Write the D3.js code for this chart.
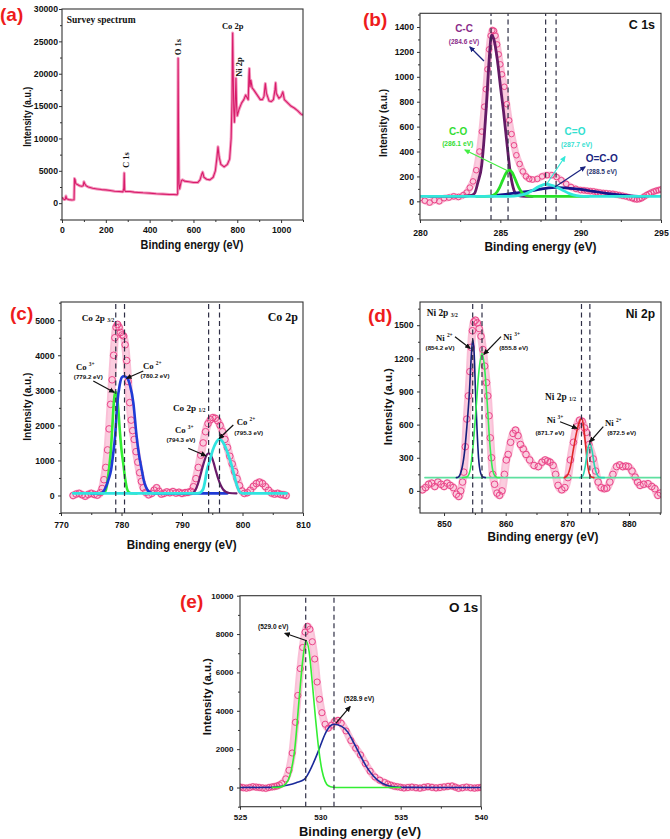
<!DOCTYPE html>
<html><head><meta charset="utf-8">
<script src="https://cdn.jsdelivr.net/npm/d3@7"></script>
<style>body{margin:0;background:#fff} svg{display:block}</style>
</head><body><svg id="c" width="670" height="839"></svg>
<script>
// ---------------- DATA ----------------
// (a) survey spectrum [binding energy eV, intensity]
const surveyData = [[0,900],[5,700],[10,550],[15,600],[18,1100],[21,700],[30,550],[45,500],[55,520],[57,3800],[60,3600],[63,3000],[70,2900],[80,2700],[90,2600],[97,2700],[100,3300],[104,3000],[110,2700],[120,2500],[140,2300],[160,2200],[180,2100],[200,2050],[220,1950],[240,1850],[260,1800],[278,1750],[282,2300],[284,4650],[286,2000],[290,1800],[310,1800],[330,1700],[350,1650],[370,1600],[400,1550],[430,1450],[460,1400],[490,1350],[510,1350],[525,1300],[528,1500],[530,22400],[532,10500],[534,3000],[537,2200],[540,2700],[545,3500],[550,3600],[560,3400],[580,3300],[600,3200],[620,3200],[630,3600],[638,4500],[642,4800],[648,4000],[660,3700],[675,3600],[690,4000],[700,5000],[707,7000],[712,8700],[717,7200],[725,6000],[740,5600],[755,6000],[765,6800],[772,10000],[776,16000],[779,26300],[781,21000],[784,14500],[787,12500],[791,16000],[794,19300],[797,15000],[800,13500],[808,14500],[820,15500],[830,16000],[838,16700],[845,16300],[850,16000],[853,19500],[855,20800],[858,18000],[862,19000],[868,17800],[875,17500],[885,17000],[895,16500],[905,16000],[915,16000],[922,16500],[928,18500],[933,17000],[945,15800],[955,15700],[965,16000],[972,17500],[975,18600],[978,17000],[990,16200],[1000,16500],[1008,17200],[1015,16000],[1030,15500],[1045,15000],[1060,14700],[1075,14300],[1090,13800],[1100,13600]];
const surveyTicksX = [0,200,400,600,800,1000];
const surveyTicksY = [0,5000,10000,15000,20000,25000,30000];

// (b) C 1s
const c1sExp = [[280.0,25],[280.3,5],[280.6,-10],[280.9,10],[281.2,0],[281.5,25],[281.8,30],[282.1,40],[282.4,35],[282.7,50],[282.9,70],[283.1,110],[283.3,160],[283.5,250],[283.7,400],[283.85,560],[284.0,760],[284.1,900],[284.2,1060],[284.3,1220],[284.4,1330],[284.5,1375],[284.6,1370],[284.7,1330],[284.8,1260],[284.9,1180],[285.0,1100],[285.1,1020],[285.25,920],[285.4,780],[285.55,650],[285.7,540],[285.85,450],[286.0,370],[286.2,300],[286.4,240],[286.6,200],[286.8,180],[287.0,175],[287.3,180],[287.6,200],[287.9,210],[288.2,210],[288.5,195],[288.8,170],[289.1,140],[289.4,115],[289.7,100],[290.0,90],[290.2,88],[290.4,85],[290.6,82],[290.8,80],[291.0,74],[291.2,70],[291.4,67],[291.6,65],[291.8,62],[292.0,60],[292.2,55],[292.4,50],[292.6,45],[292.8,40],[293.0,32],[293.2,25],[293.35,18],[293.5,15],[293.65,18],[293.8,25],[293.95,38],[294.1,50],[294.25,60],[294.4,70],[294.55,78],[294.7,85],[294.85,90],[295.0,95]];
const c1sCC = [[280.5,40],[282.5,40],[283.2,48],[283.4,65],[283.6,150],[283.84,290],[284.0,520],[284.15,810],[284.3,1130],[284.45,1335],[284.6,1300],[284.8,1150],[285.0,930],[285.2,720],[285.4,480],[285.6,250],[285.8,110],[286.0,55],[286.3,42],[287.0,40]];
const c1sCO = [[283.5,40],[284.4,42],[284.7,60],[284.95,110],[285.15,170],[285.35,225],[285.55,250],[285.75,230],[285.95,170],[286.15,110],[286.35,70],[286.6,48],[287.0,40],[290.5,40]];
const c1sCeqO = [[280,40],[285.5,40],[286.2,48],[286.6,62],[287.0,88],[287.4,118],[287.85,138],[288.3,125],[288.8,95],[289.3,62],[289.75,45],[290.2,40],[295,40]];
const c1sOCO = [[284.4,42],[285.0,52],[285.5,60],[286.0,68],[286.5,76],[287.0,86],[287.5,98],[288.0,108],[288.45,112],[289.0,108],[290.0,96],[290.8,80],[291.6,64],[292.4,52],[293.3,43],[294.0,40]];
const c1sDash = [284.42,285.48,287.82,288.47];
const c1sTicksX = [280,285,290,295];
const c1sTicksY = [0,200,400,600,800,1000,1200,1400];

// (c) Co 2p
const co2pExp = [[772,0],[772.5,40],[773,60],[773.5,20],[774,-20],[774.5,30],[775,60],[775.5,30],[776,10],[776.5,80],[776.8,200],[777.1,450],[777.4,800],[777.7,1300],[777.95,1900],[778.2,2600],[778.45,3300],[778.7,4000],[778.9,4500],[779.1,4800],[779.35,4880],[779.6,4800],[779.85,4650],[780.1,4580],[780.35,4550],[780.6,4300],[780.85,3850],[781.1,3250],[781.35,2650],[781.6,2150],[781.85,1850],[782.1,1600],[782.4,1250],[782.7,950],[783.0,650],[783.3,400],[783.6,220],[784.0,90],[784.5,20],[785.0,60],[785.4,150],[785.8,220],[786.2,120],[786.6,40],[787.0,60],[787.5,100],[788.0,80],[788.5,110],[789.0,70],[789.5,90],[790.0,60],[790.5,80],[791.0,90],[791.5,120],[791.9,250],[792.3,480],[792.7,800],[793.1,1150],[793.5,1500],[793.9,1820],[794.3,2050],[794.7,2160],[795.1,2220],[795.5,2200],[795.9,2130],[796.3,2000],[796.7,1820],[797.1,1600],[797.5,1370],[797.9,1120],[798.3,900],[798.7,680],[799.1,480],[799.5,280],[799.9,130],[800.3,60],[800.8,80],[801.3,150],[801.8,260],[802.3,340],[802.8,380],[803.3,340],[803.8,250],[804.3,150],[804.8,70],[805.3,40],[805.8,60],[806.3,30],[806.8,20],[807.2,0]];
const co2pGreen = [[776,60],[777.0,65],[777.3,110],[777.6,300],[777.9,700],[778.2,1200],[778.5,2000],[778.75,2700],[778.95,2960],[779.2,2900],[779.45,2500],[779.7,1900],[780.0,1300],[780.3,900],[780.6,480],[780.9,200],[781.2,90],[781.6,62],[782.5,60]];
const co2pBlue = [[775,60],[776.6,62],[777.0,110],[777.45,256],[777.9,480],[778.28,730],[778.6,1150],[778.94,1680],[779.3,2630],[779.7,3150],[780.05,3370],[780.4,3400],[780.9,3360],[781.4,3150],[781.97,2630],[782.5,1680],[782.9,1150],[783.35,730],[783.7,420],[784.0,256],[784.6,100],[785.2,65],[786,60],[797.5,60]];
const co2pPurple = [[790,60],[791.5,62],[792.0,100],[792.4,220],[792.8,420],[793.2,680],[793.6,930],[794.0,1130],[794.4,1205],[794.8,1140],[795.2,950],[795.6,700],[796.0,470],[796.4,290],[796.8,170],[797.3,100],[797.8,70],[799,60]];
const co2pCyan = [[772,60],[792.0,60],[792.5,62],[793.0,80],[793.5,180],[793.8,400],[794.1,700],[794.6,1000],[795.1,1300],[795.6,1500],[796.15,1610],[796.6,1560],[797.0,1450],[797.4,1280],[797.8,1080],[798.2,860],[798.6,600],[799.0,330],[799.4,140],[799.8,70],[800.3,60],[807.3,60]];
const co2pDash = [779.05,780.5,794.4,796.2];
const co2pTicksX = [770,780,790,800,810];
const co2pTicksY = [0,1000,2000,3000,4000,5000];

// (d) Ni 2p
const ni2pExp = [[846.5,10],[847,30],[847.5,60],[848,70],[848.5,40],[849,80],[849.5,60],[850,40],[850.5,70],[851,50],[851.5,30],[852,-30],[852.4,-50],[852.7,0],[853.0,80],[853.2,170],[853.45,400],[853.7,650],[853.95,860],[854.2,1080],[854.4,1300],[854.6,1450],[854.85,1530],[855.1,1545],[855.4,1520],[855.7,1470],[856.0,1400],[856.3,1280],[856.6,1130],[856.9,980],[857.1,860],[857.3,680],[857.5,480],[857.7,300],[857.9,150],[858.2,60],[858.6,-20],[859.0,-40],[859.4,0],[859.8,150],[860.1,280],[860.4,330],[860.8,440],[861.2,520],[861.6,550],[862.0,500],[862.4,420],[862.85,380],[863.3,330],[863.9,280],[864.6,230],[865.3,220],[865.9,260],[866.4,280],[866.8,270],[867.2,260],[867.7,230],[868.1,150],[868.5,50],[869.1,10],[869.6,30],[870.1,120],[870.5,280],[871.0,440],[871.5,580],[872.0,640],[872.4,630],[872.8,570],[873.1,530],[873.5,420],[874.2,290],[874.6,180],[875.0,80],[875.5,30],[876.0,20],[876.4,25],[876.9,80],[877.4,150],[878.0,220],[878.5,235],[879.0,220],[879.5,225],[879.9,220],[880.5,180],[881.0,125],[881.4,80],[881.8,50],[882.4,60],[883.1,65],[883.7,40],[884.2,20],[884.7,-40],[885.1,-20]];
const ni2pNavy = [[852.0,120],[852.3,125],[852.8,180],[853.3,340],[853.7,580],[854.1,880],[854.4,1200],[854.65,1370],[854.9,1230],[855.1,900],[855.35,560],[855.6,300],[855.9,170],[856.3,125],[856.7,120]];
const ni2pGreen = [[853.0,120],[853.7,125],[854.2,180],[854.7,400],[855.2,750],[855.6,1050],[856.16,1245],[856.6,1100],[857.0,800],[857.4,450],[857.8,220],[858.2,140],[858.6,122],[859,120]];
const ni2pRed = [[869.5,120],[870.0,140],[870.5,220],[871.0,380],[871.5,530],[872.0,630],[872.3,655],[872.6,600],[872.9,450],[873.2,280],[873.5,170],[873.9,125],[874.3,120]];
const ni2pTeal = [[872.0,120],[872.5,135],[872.9,220],[873.3,370],[873.66,430],[874.0,370],[874.4,230],[874.8,150],[875.3,122],[876,120]];
const ni2pBase = [[846.9,120],[885.2,120]];
const ni2pDash = [854.65,856.16,872.3,873.66];
const ni2pTicksX = [850,860,870,880];
const ni2pTicksY = [0,300,600,900,1200,1500];

// (e) O 1s
const o1sExp = [[525,20],[525.2,-10],[525.4,-30],[525.6,0],[525.8,40],[526.0,20],[526.2,0],[526.4,-20],[526.6,-40],[526.8,0],[527.0,30],[527.15,50],[527.3,80],[527.45,130],[527.6,200],[527.85,450],[528.05,900],[528.25,1800],[528.45,3400],[528.6,4800],[528.75,6200],[528.9,7300],[529.05,8100],[529.2,8400],[529.35,8250],[529.5,7600],[529.65,6700],[529.8,5500],[529.95,4600],[530.1,3900],[530.3,3300],[530.5,3100],[530.7,3250],[530.9,3450],[531.1,3500],[531.3,3350],[531.6,2950],[531.9,2450],[532.2,2050],[532.5,1700],[532.8,1250],[533.1,850],[533.4,550],[533.7,380],[534.0,260],[534.2,180],[534.4,120],[534.6,70],[534.8,40],[535.0,10],[535.2,-20],[535.45,0],[535.7,20],[535.95,-10],[536.2,-30],[536.45,10],[536.7,40],[536.95,10],[537.2,-20],[537.45,0],[537.7,30],[537.95,60],[538.2,80],[538.4,20],[538.6,-40],[538.85,-10],[539.1,20],[539.35,-10],[539.6,-30],[539.8,-10],[540,0]];
const o1sGreen = [[527.0,0],[527.5,20],[527.8,150],[528.1,600],[528.4,1950],[528.7,4800],[528.9,6600],[529.1,7650],[529.3,7100],[529.5,5450],[529.7,3600],[529.9,2000],[530.1,900],[530.3,320],[530.5,90],[530.8,15],[531.2,0],[535,0]];
const o1sBlue = [[525,0],[527.0,10],[527.5,50],[528.0,130],[528.5,250],[529.0,420],[529.5,1150],[529.9,1950],[530.3,2800],[530.6,3200],[530.85,3300],[531.3,3200],[531.7,2900],[532.1,2300],[532.5,1650],[532.9,1050],[533.3,600],[533.7,300],[534.1,130],[534.6,40],[535.2,5],[540,0]];
const o1sDash = [529.09,530.85];
const o1sTicksX = [525,530,535,540];
const o1sTicksY = [0,2000,4000,6000,8000,10000];

// ---------------- DRAWING ----------------
const svg = d3.select("#c");
const SANS = "'Liberation Sans', Arial, sans-serif";
const SERIF = "'Liberation Serif', 'Times New Roman', serif";
const defs = svg.append("defs");
const markers = {};
function marker(color) {
  if (markers[color]) return markers[color];
  const id = "ah" + Object.keys(markers).length;
  defs.append("marker").attr("id", id).attr("viewBox", "0 0 10 10").attr("refX", 8).attr("refY", 5)
    .attr("markerUnits", "userSpaceOnUse").attr("markerWidth", 6).attr("markerHeight", 6).attr("orient", "auto")
    .append("path").attr("d", "M0,0.5 L10,5 L0,9.5 z").attr("fill", color);
  markers[color] = id; return id;
}
function minorVals(ticks, dom) {
  const s = ticks[1] - ticks[0], out = [];
  for (let v = ticks[0] - s / 2; v <= dom[1] + 1e-9; v += s) if (v >= dom[0]) out.push(v);
  return out;
}
function panel(cfg) {
  const g = svg.append("g");
  const x = d3.scaleLinear().domain(cfg.xDom).range([cfg.left, cfg.right]);
  const y = d3.scaleLinear().domain(cfg.yDom).range([cfg.bottom, cfg.top]);
  const cid = "clip" + cfg.id;
  defs.append("clipPath").attr("id", cid).append("rect")
    .attr("x", cfg.left).attr("y", cfg.top).attr("width", cfg.right - cfg.left).attr("height", cfg.bottom - cfg.top);
  const plot = g.append("g").attr("clip-path", `url(#${cid})`);
  const fs = cfg.tickFont || 8.7;
  const ya = g.append("g").attr("transform", `translate(${cfg.left},0)`)
    .call(d3.axisLeft(y).tickValues(cfg.yTicks).tickSize(3).tickSizeOuter(0).tickPadding(cfg.yPad).tickFormat(d3.format("d")));
  const ym = g.append("g").attr("transform", `translate(${cfg.left},0)`)
    .call(d3.axisLeft(y).tickValues(minorVals(cfg.yTicks, cfg.yDom)).tickSize(2).tickSizeOuter(0).tickFormat(""));
  const xa = g.append("g").attr("transform", `translate(0,${cfg.bottom})`)
    .call(d3.axisBottom(x).tickValues(cfg.xTicks).tickSize(3).tickSizeOuter(0).tickPadding(cfg.xPad).tickFormat(d3.format("d")));
  const xm = g.append("g").attr("transform", `translate(0,${cfg.bottom})`)
    .call(d3.axisBottom(x).tickValues(minorVals(cfg.xTicks, cfg.xDom)).tickSize(2).tickSizeOuter(0).tickFormat(""));
  [ya, ym, xa, xm].forEach(a => { a.select(".domain").remove(); a.selectAll("line").attr("stroke", "#333"); });
  [ya, xa].forEach(a => a.selectAll("text").attr("font-family", SANS).attr("font-weight", "bold").attr("font-size", fs).attr("fill", "#111"));
  svg.append("rect").attr("x", cfg.left).attr("y", cfg.top).attr("width", cfg.right - cfg.left)
    .attr("height", cfg.bottom - cfg.top).attr("fill", "none").attr("stroke", "#333").attr("stroke-width", 1.1);
  svg.append("text").attr("x", cfg.xt[0]).attr("y", cfg.xt[1]).attr("text-anchor", "middle").attr("dominant-baseline", "central")
    .attr("font-family", SANS).attr("font-weight", "bold").attr("font-size", cfg.xt[2]).attr("textLength", cfg.xt[3])
    .attr("lengthAdjust", "spacingAndGlyphs").attr("fill", "#111").text("Binding energy (eV)");
  svg.append("text").attr("transform", `translate(${cfg.yt[0]},${cfg.yt[1]}) rotate(-90)`).attr("text-anchor", "middle")
    .attr("dominant-baseline", "central").attr("font-family", SANS).attr("font-weight", "bold").attr("font-size", cfg.yt[2])
    .attr("textLength", cfg.yt[3]).attr("lengthAdjust", "spacingAndGlyphs").attr("fill", "#111").text("Intensity (a.u.)");
  svg.append("text").attr("x", cfg.letter[0]).attr("y", cfg.letter[1]).attr("dominant-baseline", "central")
    .attr("font-family", SANS).attr("font-weight", "bold").attr("font-size", 19).attr("fill", "#ee1c1c").text(cfg.letter[2]);
  const top = svg.append("g");
  return { g: top, plot, x, y };
}
function lineGen(p, curve) {
  return d3.line().x(d => p.x(d[0])).y(d => p.y(d[1])).curve(curve || d3.curveMonotoneX);
}
function expSeries(p, data, r) {
  p.plot.append("path").datum(data).attr("d", lineGen(p)).attr("fill", "none").attr("stroke", "#f58cb6")
    .attr("stroke-width", 2 * r + 1.5).attr("stroke-linejoin", "round").attr("stroke-linecap", "round").attr("opacity", 0.55);
  p.plot.append("path").datum(data).attr("d", lineGen(p)).attr("fill", "none").attr("stroke", "#fbd3e3")
    .attr("stroke-width", 2 * r - 2.2).attr("stroke-linejoin", "round").attr("stroke-linecap", "round").attr("opacity", 0.7);
  p.plot.append("g").selectAll("circle").data(data).join("circle")
    .attr("cx", d => p.x(d[0])).attr("cy", d => p.y(d[1])).attr("r", r)
    .attr("fill", "none").attr("stroke", "#ea4689").attr("stroke-width", 1);
}
function fit(p, data, color, w) {
  p.plot.append("path").datum(data).attr("d", lineGen(p)).attr("fill", "none").attr("stroke", color)
    .attr("stroke-width", w).attr("stroke-linejoin", "round").attr("stroke-linecap", "round");
}
function dashes(p, vals, color) {
  const [y0, y1] = p.y.range();
  p.plot.append("g").selectAll("line").data(vals).join("line")
    .attr("x1", d => p.x(d)).attr("x2", d => p.x(d)).attr("y1", y0).attr("y2", y1)
    .attr("stroke", color || "#2e2e45").attr("stroke-width", 1.2).attr("stroke-dasharray", "5,3.5");
}
function note(p, vx, vy, txt, o) {
  o = o || {};
  const t = p.g.append("text").attr("font-family", o.font || SANS).attr("font-weight", "bold")
    .attr("font-size", o.size || 6.2).attr("fill", o.fill || "#111").attr("text-anchor", o.anchor || "middle")
    .attr("dominant-baseline", "central").text(txt);
  if (o.rotate) t.attr("transform", `translate(${p.x(vx)},${p.y(vy)}) rotate(-90)`);
  else t.attr("x", p.x(vx)).attr("y", p.y(vy));
  return t;
}
function ion(p, vx, vy, base, sup, size) {
  size = size || 8.7;
  const t = p.g.append("text").attr("x", p.x(vx)).attr("y", p.y(vy)).attr("font-family", SERIF)
    .attr("font-weight", "bold").attr("font-size", size).attr("fill", "#111").attr("dominant-baseline", "central");
  t.append("tspan").text(base + " ");
  t.append("tspan").text(sup).attr("font-size", size * 0.62).attr("dy", -3);
}
function subLabel(p, vx, vy, base, sub, size) {
  const t = p.g.append("text").attr("x", p.x(vx)).attr("y", p.y(vy)).attr("font-family", SERIF)
    .attr("font-weight", "bold").attr("font-size", size).attr("fill", "#111").attr("dominant-baseline", "central");
  t.append("tspan").text(base + " ");
  t.append("tspan").text(sub).attr("font-size", size * 0.6).attr("dy", 2);
}
function arrow(p, x1, y1, x2, y2, color) {
  color = color || "#111";
  p.g.append("line").attr("x1", p.x(x1)).attr("y1", p.y(y1)).attr("x2", p.x(x2)).attr("y2", p.y(y2))
    .attr("stroke", color).attr("stroke-width", 1.2).attr("marker-end", `url(#${marker(color)})`);
}

// ----- (a) -----
const pa = panel({ id: "a", left: 62, right: 303, top: 9, bottom: 220, xDom: [0, 1100], yDom: [-2600, 30000],
  xTicks: surveyTicksX, yTicks: surveyTicksY, xPad: 3.5, yPad: 1,
  xt: [192, 245, 12, 103], yt: [26.7, 116.7, 11, 60], letter: [0, 14, "(a)"] });
pa.plot.append("path").datum(surveyData).attr("d", lineGen(pa, d3.curveLinear)).attr("fill", "none")
  .attr("stroke", "#f49ac0").attr("stroke-width", 3).attr("stroke-linejoin", "round");
pa.plot.append("path").datum(surveyData).attr("d", lineGen(pa, d3.curveLinear)).attr("fill", "none")
  .attr("stroke", "#d81b6a").attr("stroke-width", 1.1).attr("stroke-linejoin", "round");
note(pa, 21.5, 28300, "Survey spectrum", { font: SERIF, size: 9.5, anchor: "start" });
note(pa, 529.5, 24129, "O 1s", { font: SERIF, size: 8.5, rotate: true });
note(pa, 779.1, 27373, "Co 2p", { font: SERIF, size: 8.5 });
note(pa, 807.9, 21039, "Ni 2p", { font: SERIF, size: 8.5, rotate: true });
note(pa, 292.1, 6670, "C 1s", { font: SERIF, size: 8.5, rotate: true });

// ----- (b) -----
const pb = panel({ id: "b", left: 420, right: 661, top: 13.3, bottom: 220, xDom: [280, 295], yDom: [-150, 1510],
  xTicks: c1sTicksX, yTicks: c1sTicksY, xPad: 7, yPad: 3,
  xt: [540.5, 246.7, 12, 112], yt: [383, 123, 11, 68], letter: [363, 19, "(b)"] });
expSeries(pb, c1sExp, 2.8);
fit(pb, c1sCC, "#641a66", 2.8);
fit(pb, c1sOCO, "#15158a", 2.6);
fit(pb, c1sCO, "#28e028", 2.8);
fit(pb, c1sCeqO, "#33e6dc", 2.8);
dashes(pb, c1sDash);
note(pb, 282.74, 1384, "C-C", { fill: "#8a2b8a", size: 10 });
note(pb, 282.74, 1280, "(284.6 eV)", { fill: "#8a2b8a", size: 6.5 });
arrow(pb, 283.98, 1127, 283.11, 1239, "#1a237e");
note(pb, 282.37, 557, "C-O", { fill: "#33dd33", size: 10 });
note(pb, 282.35, 468, "(286.1 eV)", { fill: "#33dd33", size: 6.7 });
arrow(pb, 285.48, 243, 282.8, 412, "#44ee44");
note(pb, 289.65, 557, "C=O", { fill: "#33e0d0", size: 10 });
note(pb, 289.75, 460, "(287.7 eV)", { fill: "#33e0d0", size: 6.7 });
arrow(pb, 287.89, 139, 289.02, 358, "#33e8d8");
note(pb, 291.31, 340, "O=C-O", { fill: "#1a2580", size: 10 });
note(pb, 291.31, 243, "(288.5 eV)", { fill: "#2a3570", size: 6.5 });
arrow(pb, 288.4, 115, 290.27, 276, "#1a237e");
note(pb, 294.63, 1416, "C 1s", { size: 12.5, anchor: "end" });

// ----- (c) -----
const pc = panel({ id: "c", left: 61, right: 303, top: 302, bottom: 513, xDom: [770, 810], yDom: [-500, 5520],
  xTicks: co2pTicksX, yTicks: co2pTicksY, xPad: 5.5, yPad: 3.5,
  xt: [181.7, 545, 12, 110], yt: [27.3, 406.7, 11, 68], letter: [10, 313, "(c)"] });
expSeries(pc, co2pExp, 3.3);
fit(pc, co2pGreen, "#33ee33", 2.6);
fit(pc, co2pBlue, "#1f3bd6", 2.6);
fit(pc, co2pPurple, "#6a1a6a", 2.2);
fit(pc, co2pCyan, "#30e4e0", 2.8);
dashes(pc, co2pDash);
subLabel(pc, 773.42, 5055, "Co 2p", "3/2", 9.2);
ion(pc, 772.48, 3674, "Co", "3+");
note(pc, 774.51, 3389, "(779.2 eV)");
arrow(pc, 775.34, 3266, 778.76, 2944);
ion(pc, 783.55, 3703, "Co", "2+");
note(pc, 785.54, 3417, "(780.2 eV)");
arrow(pc, 783.6, 3551, 780.86, 3343);
subLabel(pc, 788.51, 2504, "Co 2p", "1/2", 9.2);
ion(pc, 788.84, 1868, "Co", "3+");
note(pc, 789.83, 1611, "(794.3 eV)");
arrow(pc, 791.04, 1346, 793.92, 1135);
ion(pc, 799.04, 2088, "Co", "2+");
note(pc, 801.02, 1802, "(795.3 eV)");
arrow(pc, 798.48, 2011, 796.17, 1631);
note(pc, 809.17, 5100, "Co 2p", { font: SERIF, size: 12, anchor: "end" });

// ----- (d) -----
const pd = panel({ id: "d", left: 420, right: 661, top: 302, bottom: 513, xDom: [846.1, 885.2], yDom: [-200, 1710],
  xTicks: ni2pTicksX, yTicks: ni2pTicksY, xPad: 4.7, yPad: 3.5,
  xt: [543, 536.7, 12, 111], yt: [388, 406.7, 11, 77], letter: [368, 315, "(d)"] });
expSeries(pd, ni2pExp, 3.3);
fit(pd, ni2pBase, "#5fe0a0", 1.6);
fit(pd, ni2pNavy, "#16207c", 1.6);
fit(pd, ni2pGreen, "#33ee55", 1.6);
fit(pd, ni2pRed, "#e02828", 1.6);
fit(pd, ni2pTeal, "#2ad6b0", 1.6);
dashes(pd, ni2pDash);
subLabel(pd, 847.19, 1608, "Ni 2p", "3/2", 9.4);
ion(pd, 848.7, 1387, "Ni", "2+");
note(pd, 849.35, 1300, "(854.2 eV)");
arrow(pd, 851.78, 1396, 854.21, 1291);
ion(pd, 859.62, 1396, "Ni", "3+");
note(pd, 861.3, 1300, "(855.8 eV)");
arrow(pd, 859.24, 1396, 856.48, 1237);
subLabel(pd, 866.38, 853, "Ni 2p", "1/2", 9.4);
ion(pd, 866.66, 642, "Ni", "3+");
note(pd, 867.19, 527, "(871.7 eV)");
arrow(pd, 868.82, 626, 871.53, 567);
ion(pd, 876.12, 612, "Ni", "2+");
note(pd, 878.83, 530, "(872.5 eV)");
arrow(pd, 875.84, 581, 873.68, 445);
note(pd, 884.23, 1599, "Ni 2p", { size: 12, anchor: "end" });

// ----- (e) -----
const pe = panel({ id: "e", left: 240, right: 481, top: 595.7, bottom: 806.7, xDom: [525, 540], yDom: [-1000, 10000],
  xTicks: o1sTicksX, yTicks: o1sTicksY, xPad: 4.3, yPad: 3.5, tickFont: 8,
  xt: [360, 831, 13, 122], yt: [206.7, 696.7, 11, 77], letter: [180, 601.7, "(e)"] });
expSeries(pe, o1sExp, 3.1);
fit(pe, o1sBlue, "#1a2a9a", 1.6);
fit(pe, o1sGreen, "#33ee33", 1.6);
dashes(pe, o1sDash);
note(pe, 527.07, 8420, "(529.0 eV)", { size: 6.5 });
arrow(pe, 529.15, 7654, 527.8, 8040);
note(pe, 532.41, 4615, "(528.9 eV)", { size: 6.5 });
arrow(pe, 530.96, 3348, 531.85, 4213);
note(pe, 539.83, 9395, "O 1s", { size: 13.5, anchor: "end" });
</script></body></html>
